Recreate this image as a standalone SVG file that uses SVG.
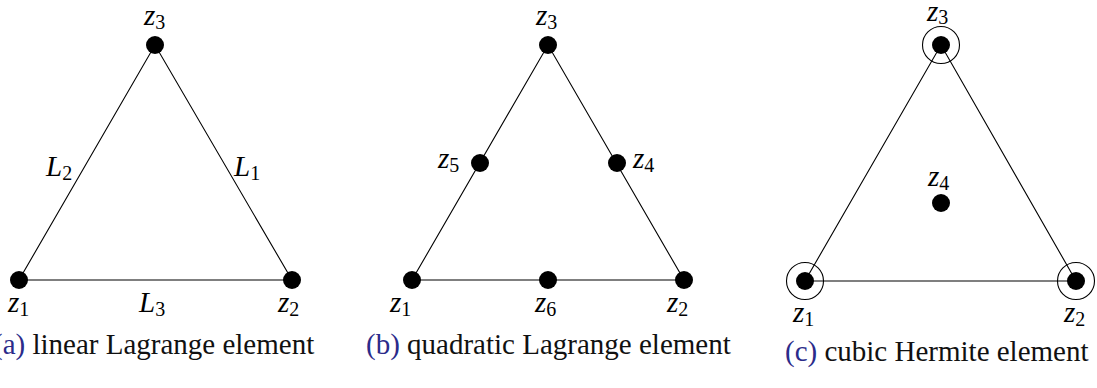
<svg xmlns="http://www.w3.org/2000/svg" width="1097" height="388" viewBox="0 0 1097 388">
<style>
.edge{stroke:#000;stroke-width:1.1;fill:none}
.dot{fill:#000}
.ring{fill:none;stroke:#000;stroke-width:1.1}
.m{font-family:"Liberation Serif",serif;font-style:italic;font-size:29px;fill:#000}
.s{font-style:normal;font-size:20px}
.cap{font-family:"Liberation Serif",serif;font-size:29px;fill:#111}
.lab{fill:#2b2b8a}
</style>
<g id="connectors">
<polygon class="edge" points="19,280 292,280 155,45"/>
<polygon class="edge" points="412,280 684,280 548,45"/>
<polygon class="edge" points="805,281 1076,281 941,45"/>
</g>
<g id="a-z1"><circle class="dot" cx="19" cy="280" r="9"/><text class="m" x="8" y="312">z<tspan class="s" dy="4">1</tspan></text></g>
<g id="a-z2"><circle class="dot" cx="292" cy="280" r="9"/><text class="m" x="278" y="312">z<tspan class="s" dy="4">2</tspan></text></g>
<g id="a-z3"><circle class="dot" cx="155" cy="45" r="9"/><text class="m" x="144" y="25">z<tspan class="s" dy="4">3</tspan></text></g>
<g id="a-labels">
<text class="m" x="46" y="176">L<tspan class="s" dy="4">2</tspan></text>
<text class="m" x="234" y="176">L<tspan class="s" dy="4">1</tspan></text>
<text class="m" x="139" y="312">L<tspan class="s" dy="4">3</tspan></text>
</g>
<g id="b-z1"><circle class="dot" cx="412" cy="280" r="9"/><text class="m" x="390" y="312">z<tspan class="s" dy="4">1</tspan></text></g>
<g id="b-z2"><circle class="dot" cx="684" cy="280" r="9"/><text class="m" x="667" y="312">z<tspan class="s" dy="4">2</tspan></text></g>
<g id="b-z3"><circle class="dot" cx="548" cy="45" r="9"/><text class="m" x="536" y="25">z<tspan class="s" dy="4">3</tspan></text></g>
<g id="b-z4"><circle class="dot" cx="617" cy="163" r="9"/><text class="m" x="633" y="168">z<tspan class="s" dy="4">4</tspan></text></g>
<g id="b-z5"><circle class="dot" cx="480" cy="163" r="9"/><text class="m" x="438" y="168">z<tspan class="s" dy="4">5</tspan></text></g>
<g id="b-z6"><circle class="dot" cx="548" cy="280" r="9"/><text class="m" x="535" y="312">z<tspan class="s" dy="4">6</tspan></text></g>
<g id="c-z1"><circle class="ring" cx="805" cy="281" r="18.5"/><circle class="dot" cx="805" cy="281" r="9"/><text class="m" x="793" y="322">z<tspan class="s" dy="4">1</tspan></text></g>
<g id="c-z2"><circle class="ring" cx="1076" cy="281" r="18.5"/><circle class="dot" cx="1076" cy="281" r="9"/><text class="m" x="1064" y="322">z<tspan class="s" dy="4">2</tspan></text></g>
<g id="c-z3"><circle class="ring" cx="941" cy="45" r="18.5"/><circle class="dot" cx="941" cy="45" r="9"/><text class="m" x="927" y="21">z<tspan class="s" dy="3">3</tspan></text></g>
<g id="c-z4"><circle class="dot" cx="941" cy="203" r="9"/><text class="m" x="928" y="186">z<tspan class="s" dy="4">4</tspan></text></g>
<g id="captions">
<text class="cap" x="-7" y="354"><tspan class="lab">(a)</tspan> linear Lagrange element</text>
<text class="cap" x="366" y="354"><tspan class="lab">(b)</tspan> quadratic Lagrange element</text>
<text class="cap" x="785" y="361"><tspan class="lab">(c)</tspan> cubic Hermite element</text>
</g>
</svg>
